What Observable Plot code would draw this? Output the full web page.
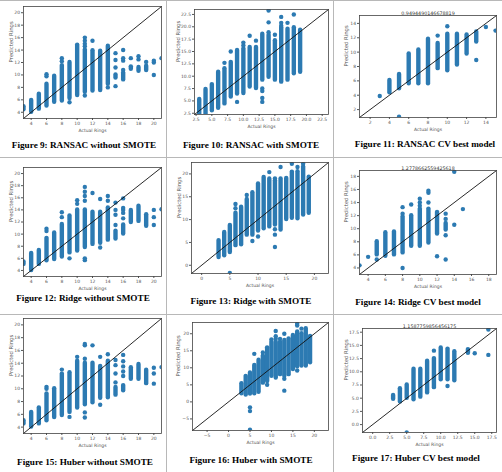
<!DOCTYPE html>
<html><head><meta charset="utf-8">
<script src="https://cdn.jsdelivr.net/npm/d3@7"></script>
<script src="https://cdn.jsdelivr.net/npm/@observablehq/plot@0.6"></script>
<style>
body{margin:0;background:#fff;}
#page{position:relative;width:502px;height:472px;overflow:hidden;background:#fff;}
.cap{position:absolute;font-family:"Liberation Serif","Times New Roman",serif;font-weight:bold;font-size:9.2px;line-height:1;white-space:nowrap;transform:translate(-50%,-50%);color:#000;}
.sep{position:absolute;background:#b8b8b8;}
</style></head><body><div id="page"></div>
<script>
// ---------------- DATA ----------------
const captions = [
  "Figure 9: RANSAC without SMOTE", "Figure 10: RANSAC with SMOTE", "Figure 11: RANSAC CV best model",
  "Figure 12: Ridge without SMOTE", "Figure 13: Ridge with SMOTE", "Figure 14: Ridge CV best model",
  "Figure 15: Huber without SMOTE", "Figure 16: Huber with SMOTE", "Figure 17: Huber CV best model"
];
const cvTitles = ["0.9494490146678819", "1.2778662559425618", "1.1587759856456175"];
const xLabel = "Actual Rings";
const yLabel = "Predicted Rings";

// tick values
const ticks4to20 = [4, 6, 8, 10, 12, 14, 16, 18, 20];
const ticks2_5to22_5 = [2.5, 5.0, 7.5, 10.0, 12.5, 15.0, 17.5, 20.0, 22.5];
const ticks2to14 = [2, 4, 6, 8, 10, 12, 14];
const ticks0to20by5 = [0, 5, 10, 15, 20];
const ticks4to18 = [4, 6, 8, 10, 12, 14, 16, 18];
const ticksM5to20 = [-5, 0, 5, 10, 15, 20];
const ticks0to17_5 = [0.0, 2.5, 5.0, 7.5, 10.0, 12.5, 15.0, 17.5];

// axis limits (same for x and y)
const limRansacNo = [3, 21], limRansacSm = [2.25, 23.5], limRansacCv = [0.9, 15.1];
const limRidgeNo = [3, 21], limRidgeSm = [-1.8, 22.5], limRidgeCv = [3, 18.9];
const limHuberNo = [3, 21], limHuberSm = [-8.4, 23.3], limHuberCv = [-1.5, 18.2];

// dense column runs: [actual, predLow, predHigh]; single points: [actual, pred]
const ransacNoCols = [[3,4.4,4.9],[4,4.0,5.9],[5,4.5,6.9],[6,5.0,8.5],[7,5.6,9.8],[8,5.8,11.5],[9,6.2,12.0],[10,6.7,14.8],[11,7.2,14.0],[12,7.4,13.9],[13,7.5,13.8],[14,8.5,14.6],[15,9.5,10.0],[16,9.2,10.3],[17,10.9,11.3],[18,10.6,11.2],[19,10.7,11.4]];
const ransacNoPts = [[6,9.8],[6,10.1],[8,12.2],[8,12.7],[9,5.6],[11,6.7],[11,14.6],[11,15.0],[11,15.5],[11,16.0],[12,15.5],[14,8.0],[15,8.2],[15,11.2],[15,12.4],[15,13.5],[16,10.8],[16,12.3],[16,12.7],[16,14.0],[17,12.7],[18,12.5],[18,13.0],[19,12.1],[20,10.0],[20,12.0],[20,12.3],[21,12.7]];

const ransacSmCols = [[3,2.3,5.3],[4,2.2,7.3],[5,3.0,8.3],[6,3.5,10.8],[7,4.4,11.5],[8,5.8,12.8],[9,6.4,15.2],[10,6.5,15.5],[11,7.8,15.8],[12,7.5,15.8],[13,9.2,18.5],[14,9.8,18.3],[15,9.2,17.2],[16,8.8,19.8],[17,9.2,19.5],[18,10.5,19.8],[19,10.8,19.3]];
const ransacSmPts = [[7,12.7],[8,15.0],[9,4.8],[10,16.2],[10,16.8],[11,18.2],[12,17.2],[13,7.5],[13,7.0],[13,5.6],[13,4.8],[14,18.9],[14,20.9],[14,23.3],[15,18.4],[16,20.2],[16,20.8],[16,22.0],[17,20.8],[18,22.5]];

const ransacCvCols = [[4,4.35,6.05],[5,4.9,6.9],[6,5.6,9.75],[7,5.6,10.3],[8,5.6,11.8],[9,7.7,11.2],[10,7.4,12.5],[11,8.2,12.5],[12,9.75,12.4],[13,11.4,12.8]];
const ransacCvPts = [[3,3.9],[5,1.0],[9,12.3],[10,13.6],[13,8.9],[14,13.5],[15,13.0]];

const ridgeNoCols = [[3,5.0,5.4],[4,4.0,6.8],[5,5.0,7.3],[6,5.6,9.3],[7,5.8,10.2],[8,6.2,11.6],[9,6.9,13.0],[10,7.2,14.0],[11,7.8,14.0],[12,8.3,13.6],[13,8.5,13.6],[14,9.0,14.3],[15,9.2,10.5],[16,10.0,11.5],[17,11.9,13.9],[18,12.1,14.6],[19,11.3,13.2]];
const ridgeNoPts = [[6,10.5],[6,10.9],[8,12.8],[8,13.6],[9,6.0],[10,15.0],[10,15.6],[11,5.7],[11,6.0],[11,15.5],[11,16.3],[11,17.0],[11,17.8],[12,16.8],[13,7.8],[13,15.8],[14,15.5],[14,16.3],[15,11.5],[15,13.2],[15,14.0],[15,15.2],[16,12.6],[16,13.5],[16,14.0],[16,14.3],[16,15.9],[20,11.5],[20,12.8],[20,14.0],[21,14.1]];

const ridgeSmCols = [[3,1.7,5.4],[4,2.1,7.2],[5,2.8,8.7],[6,4.3,11.4],[7,4.5,12.7],[8,6.6,14.4],[9,6.6,15.9],[10,7.5,17.8],[11,8.0,19.2],[12,8.4,18.9],[13,8.8,18.5],[14,7.7,18.9],[15,10.0,19.0],[16,10.3,20.4],[17,10.2,20.5],[18,11.0,21.5],[19,11.4,19.3]];
const ridgeSmPts = [[5,-1.7],[6,12.5],[6,13.4],[8,15.4],[9,5.3],[10,6.3],[12,20.4],[13,19.0],[13,7.9],[13,6.7],[13,4.0],[14,21.5],[16,22.2],[17,21.5],[18,22.2]];

const ridgeCvCols = [[5,6.0,8.0],[6,5.8,9.4],[7,6.0,9.5],[8,6.3,11.8],[9,7.3,12.0],[10,7.3,13.0],[11,7.8,13.0],[12,9.2,12.5],[13,9.8,10.8]];
const ridgeCvPts = [[3,4.4],[4,5.7],[5,5.3],[8,4.0],[8,12.3],[8,13.3],[9,13.7],[10,13.5],[10,14.0],[10,14.6],[11,14.0],[11,15.5],[11,15.8],[12,5.8],[13,5.3],[13,9.0],[13,11.5],[13,12.3],[14,10.6],[14,18.7],[15,13.0]];

const huberNoCols = [[3,4.5,5.0],[4,4.0,6.3],[5,4.5,7.0],[6,5.0,9.2],[7,5.5,10.0],[8,5.8,12.3],[9,6.3,12.5],[10,7.0,14.3],[11,7.5,14.0],[12,7.8,14.0],[13,8.5,13.5],[14,8.6,14.3],[15,9.0,10.2],[16,9.7,10.5],[17,11.5,13.3],[18,11.5,13.8],[19,10.8,12.9]];
const huberNoPts = [[6,10.0],[6,10.3],[8,13.0],[9,5.6],[10,15.0],[11,5.5],[11,6.3],[11,14.7],[11,16.8],[11,17.0],[12,16.8],[13,7.5],[13,15.0],[14,15.4],[15,11.0],[15,12.4],[15,13.7],[15,14.5],[16,12.0],[16,12.7],[16,13.5],[16,14.3],[16,15.3],[20,10.8],[20,12.4],[20,13.3],[21,13.4]];

const huberSmCols = [[3,2.4,5.3],[4,2.0,7.5],[5,2.3,8.5],[6,2.4,10.7],[7,2.8,12.2],[8,5.5,13.5],[9,6.0,15.5],[10,7.5,17.5],[11,7.0,17.5],[12,8.0,17.5],[13,7.5,18.0],[14,8.0,18.5],[15,9.5,19.5],[16,10.3,20.5],[17,10.5,20.0],[18,10.5,21.5],[19,11.5,19.2]];
const huberSmPts = [[5,-1.6],[5,-2.7],[5,-8.2],[6,14.1],[8,14.5],[9,5.0],[9,16.0],[10,18.3],[11,18.5],[11,19.3],[11,20.8],[12,18.5],[13,3.3],[13,6.8],[13,20.0],[16,9.2],[16,22.4],[16,22.9],[17,21.5]];

const huberCvCols = [[3,4.8,5.5],[4,4.3,6.8],[5,5.0,7.5],[6,4.7,10.5],[7,5.2,10.5],[8,6.0,12.0],[9,7.0,12.5],[10,8.5,14.5],[11,8.5,14.3],[12,8.3,13.8],[14,13.5,14.2]];
const huberCvPts = [[5,-1.5],[9,14.0],[11,7.3],[15,13.5],[17,13.2],[17,18.0]];

// ---------------- LAYOUT / DRAW ----------------
const W = 502, H = 472;
const dotColor = "#2c7ab2";
const page = document.getElementById("page");
const f1 = d3.format(".1f");

const panels = [
  {cols: ransacNoCols, pts: ransacNoPts, lim: limRansacNo, xt: ticks4to20, yt: ticks4to20, box: [23, 6, 161, 118], ylab: -12.5},
  {cols: ransacSmCols, pts: ransacSmPts, lim: limRansacSm, xt: ticks2_5to22_5, yt: ticks2_5to22_5, fmt: f1, box: [194, 9, 328, 114], ylab: -16.5},
  {cols: ransacCvCols, pts: ransacCvPts, lim: limRansacCv, xt: ticks2to14, yt: ticks2to14, box: [359, 15, 496, 117], title: cvTitles[0], ylab: -13},
  {cols: ridgeNoCols, pts: ridgeNoPts, lim: limRidgeNo, xt: ticks4to20, yt: ticks4to20, box: [23, 167, 161, 276], ylab: -12.5},
  {cols: ridgeSmCols, pts: ridgeSmPts, lim: limRidgeSm, xt: ticks0to20by5, yt: ticks0to20by5, box: [191, 162, 328, 273], ylab: -12.5},
  {cols: ridgeCvCols, pts: ridgeCvPts, lim: limRidgeCv, xt: ticks4to18, yt: ticks4to18, box: [359, 170, 496, 274], title: cvTitles[1], ylab: -13},
  {cols: huberNoCols, pts: huberNoPts, lim: limHuberNo, xt: ticks4to20, yt: ticks4to20, box: [23, 318, 161, 433], ylab: -12.5},
  {cols: huberSmCols, pts: huberSmPts, lim: limHuberSm, xt: ticksM5to20, yt: ticksM5to20, box: [192, 322, 328, 430], ylab: -14},
  {cols: huberCvCols, pts: huberCvPts, lim: limHuberCv, xt: ticks0to17_5, yt: ticks0to17_5, fmt: f1, box: [362, 328, 496, 432], title: cvTitles[2], ylab: -16.5}
];
const capPos = [[84,146],[251,146],[425,145],[83,299],[251,302],[418,303],[85,463],[251,461],[416,459]];

// cell separators
[[0,0,W,1],[0,157,W,1],[0,314,W,1],[166,0,1,H],[333,0,1,H]].forEach(([x,y,w,h]) => {
  const d = document.createElement("div");
  d.className = "sep";
  Object.assign(d.style, {left: x+"px", top: y+"px", width: w+"px", height: h+"px"});
  page.appendChild(d);
});

panels.forEach((cfg, i) => {
  const [l, t, r, b] = cfg.box;
  const marks = [
    Plot.ruleX(cfg.cols, {x: d => d[0], y1: d => d[1], y2: d => d[2], stroke: dotColor, strokeWidth: 4.4, strokeLinecap: "round", clip: true}),
    Plot.dot(cfg.pts, {x: d => d[0], y: d => d[1], r: 2.2, fill: dotColor, stroke: "none", clip: true}),
    Plot.line(cfg.lim, {x: d => d, y: d => d, stroke: "#111", strokeWidth: 0.9}),
    Plot.frame({stroke: "#444", strokeWidth: 0.8}),
    Plot.text([xLabel], {frameAnchor: "bottom", dy: 13, text: d => d, fontSize: 4.5, fill: "#555"}),
    Plot.text([yLabel], {frameAnchor: "left", dx: cfg.ylab, rotate: -90, text: d => d, fontSize: 5.3, fill: "#555"})
  ];
  if (cfg.title) marks.push(Plot.text([cfg.title], {frameAnchor: "top", dy: -4, text: d => d, fontSize: 4.8, fill: "#333"}));
  const svg = Plot.plot({
    width: W, height: H,
    marginLeft: l, marginRight: W - r, marginTop: t, marginBottom: H - b,
    x: {domain: cfg.lim, ticks: cfg.xt, tickFormat: cfg.fmt, tickSize: 2, tickPadding: 1.5, label: null},
    y: {domain: cfg.lim, ticks: cfg.yt, tickFormat: cfg.fmt, tickSize: 2, tickPadding: 1.5, label: null},
    style: {background: "transparent", fontFamily: "DejaVu Sans", fontSize: "4.5px", color: "#555", position: "absolute", left: "0px", top: "0px", overflow: "visible", maxWidth: "none"},
    marks
  });
  page.appendChild(svg);

  const c = document.createElement("div");
  c.className = "cap";
  c.textContent = captions[i];
  c.style.left = capPos[i][0] + "px";
  c.style.top = capPos[i][1] + "px";
  page.appendChild(c);
});
</script></body></html>
